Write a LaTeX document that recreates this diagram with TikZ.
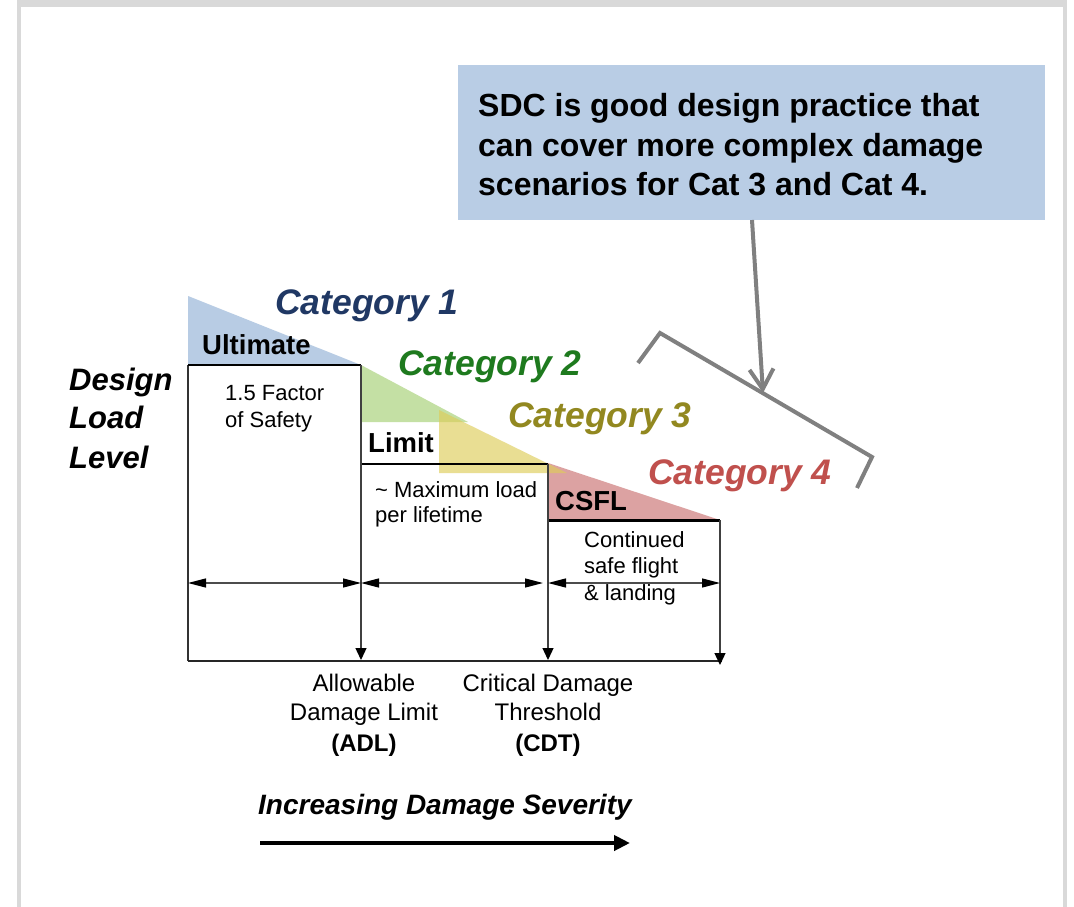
\documentclass[tikz,border=0pt]{standalone}
\usepackage{fontspec}
\setmainfont{Liberation Sans}
\usetikzlibrary{arrows.meta}

\definecolor{framegray}{HTML}{D9D9D9}
\definecolor{noteblue}{HTML}{B9CDE5}
\definecolor{fillone}{HTML}{B8CCE4}
\definecolor{filltwo}{HTML}{C4E0A4}
\definecolor{fillthree}{HTML}{DECD5A}
\definecolor{fillfour}{HTML}{DCA2A2}
\definecolor{catone}{HTML}{203864}
\definecolor{cattwo}{HTML}{1E7A1E}
\definecolor{catthree}{HTML}{928820}
\definecolor{catfour}{HTML}{C0504D}
\definecolor{pointer}{HTML}{808080}

\tikzset{
  lbl/.style={inner sep=0pt, anchor=base west},
  lblc/.style={inner sep=0pt, anchor=base},
  cat/.style={lbl, font=\fontsize{35.5}{40}\selectfont\bfseries\itshape},
  lvl/.style={lbl, font=\fontsize{27.5}{33}\selectfont\bfseries},
  axislbl/.style={lbl, font=\fontsize{31}{39}\selectfont\bfseries\itshape},
  small/.style={lbl, font=\fontsize{22}{26}\selectfont},
  marker/.style={lblc, font=\fontsize{24}{28}\selectfont},
  markerbf/.style={lblc, font=\fontsize{24}{28}\selectfont\bfseries},
  notetext/.style={lbl, font=\fontsize{32}{39}\selectfont\bfseries},
  edge/.style={line width=2pt, black},
  thinedge/.style={line width=1.4pt, black!80},
  span/.style={line width=1.3pt, black!70,
    {Triangle[length=18pt,width=9pt,color=black]}-{Triangle[length=18pt,width=9pt,color=black]}},
  drop/.style={line width=1.3pt, black!75, -{Triangle[length=12pt,width=11pt,color=black]}},
  pointerline/.style={line width=4pt, pointer},
}

\begin{document}
\begin{tikzpicture}[x=1pt,y=-1pt]
\useasboundingbox (0,0) rectangle (1074,907);

% slide frame
\fill[framegray] (17,0) rectangle (1067,907);
\fill[white] (21,7) rectangle (1063,907);

% key points of the load staircase
\coordinate (apex) at (188,296);
\coordinate (ultL) at (188,365);
\coordinate (ultR) at (361,365);
\coordinate (limL) at (361,464);
\coordinate (limR) at (548,464);
\coordinate (csfL) at (548,520);
\coordinate (csfR) at (720,520);
\coordinate (botL) at (188,661);
\coordinate (botA) at (361,660);
\coordinate (botC) at (548,660);
\coordinate (botR) at (720,665);
\coordinate (botE) at (722,661);

% category wedges
\fill[fillone] (apex) -- (ultL) -- (ultR) -- cycle;
\fill[filltwo] (361,365) -- (361,422) -- (468,422) -- cycle;
\fill[fillfour] (548,463) -- (csfL) -- (csfR) -- cycle;
\fill[fillthree, fill opacity=0.65] (439,410) -- (439,473) -- (567,473) -- cycle;

% staircase outline
\draw[thinedge] (botL) -- (ultL);
\draw[edge] (ultL) -- (ultR);
\draw[edge] (limL) -- (limR);
\draw[line width=3pt, black] (csfL) -- (csfR);
\draw[line width=2pt, black!85] (botL) -- (botE);

% damage thresholds
\draw[drop] (ultR) -- (botA);
\draw[drop] (limR) -- (botC);
\draw[drop] (csfR) -- (botR);

% spans between thresholds
\coordinate (s0) at (188,583);
\coordinate (s1) at (361,583);
\coordinate (s2a) at (543,583);
\coordinate (s2b) at (548,583);
\coordinate (s3) at (720,583);
\draw[span] (s0) -- (s1);
\draw[span] (s1) -- (s2a);
\draw[span] (s2b) -- (s3);

% load level labels
\node[lvl] (ult) at (202,354) {Ultimate};
\node[lvl] (lim) at (368,452) {Limit};
\node[lvl] (csfl) at (555,510) {CSFL};

\node[small] (fos1) at (225,400) {1.5 Factor};
\node[small] (fos2) at (225,427) {of Safety};
\node[small] (max1) at (375,497) {\textasciitilde\ Maximum load};
\node[small] (max2) at (375,522) {per lifetime};
\node[small] (cont1) at (584,547) {Continued};
\node[small] (cont2) at (584,573) {safe flight};
\node[small] (cont3) at (584,600) {\& landing};

% categories
\node[cat, text=catone] (c1) at (275,314) {Category 1};
\node[cat, text=cattwo] (c2) at (398,375) {Category 2};
\node[cat, text=catthree] (c3) at (508,427) {Category 3};
\node[cat, text=catfour] (c4) at (648,484) {Category 4};

% vertical axis title
\node[axislbl] (ax1) at (69,390) {Design};
\node[axislbl] (ax2) at (69,428) {Load};
\node[axislbl] (ax3) at (69,468) {Level};

% threshold names
\node[marker] (adl1) at (364,691) {Allowable};
\node[marker] (adl2) at (364,720) {Damage Limit};
\node[markerbf] (adl3) at (364,751) {(ADL)};
\node[marker] (cdt1) at (548,691) {Critical Damage};
\node[marker] (cdt2) at (548,720) {Threshold};
\node[markerbf] (cdt3) at (548,751) {(CDT)};

% severity axis
\node[lbl, font=\fontsize{28}{34}\selectfont\bfseries\itshape] (sev) at (258,814) {Increasing Damage Severity};
\coordinate (sevA) at (260,843);
\coordinate (sevB) at (630,843);
\draw[line width=4pt, black, -{Triangle[length=16pt,width=15pt]}] (sevA) -- (sevB);

% callout
\node[fill=noteblue, inner sep=0pt, minimum width=587pt, minimum height=155pt, anchor=north west] (note) at (458,65) {};
\node[notetext] (n1) at (478,116) {SDC is good design practice that};
\node[notetext] (n2) at (478,156) {can cover more complex damage};
\node[notetext] (n3) at (478,195) {scenarios for Cat 3 and Cat 4.};

\coordinate (noteout) at (752,220);
\coordinate (b1) at (638,363);
\coordinate (b2) at (660,333);
\coordinate (b3) at (872,457);
\coordinate (b4) at (857,488);
\coordinate (bmid) at (763,393);
\draw[pointerline, line join=miter] (b1) -- (b2) -- (b3) -- (b4);
\draw[pointerline, -{Straight Barb[length=20pt,width=24pt]}] (noteout) -- (bmid);
\end{tikzpicture}
\end{document}
